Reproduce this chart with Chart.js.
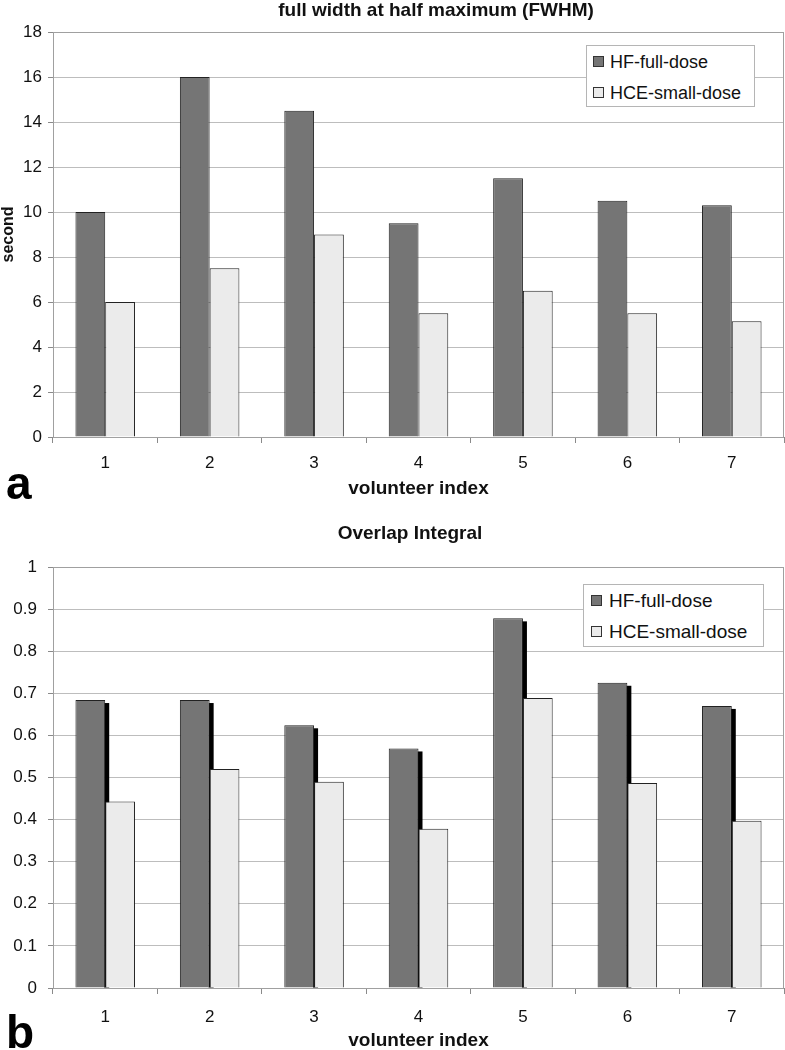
<!DOCTYPE html>
<html>
<head>
<meta charset="utf-8">
<script src="https://cdn.jsdelivr.net/npm/chart.js@4"></script>
<style>
  body { margin: 0; background: #fff; font-family: "Liberation Sans", Arial, sans-serif; }
  #page { position: relative; width: 785px; height: 1050px; overflow: hidden; }
  .panel { position: absolute; left: 0; width: 785px; }
  .title { position: absolute; font-weight: bold; white-space: nowrap; transform: translateX(-50%); line-height: 20px; color: #111; }
  .letter { position: absolute; left: 6px; font-weight: bold; font-size: 46px; line-height: 46px; color: #000; }
  .legend { position: absolute; box-sizing: border-box; border: 1px solid #b5b5b5; background: #fff; }
  .legend .row { position: absolute; white-space: nowrap; color: #111; }
  .legend .sw { position: absolute; width: 11px; height: 11px; box-sizing: border-box; border: 1px solid #333; }
</style>
</head>
<body>
<div id="page">
  <div class="panel" style="top:0;height:500px"><canvas id="fwhmChart"></canvas></div>
  <div class="panel" style="top:500px;height:550px"><canvas id="overlapChart"></canvas></div>

  <div class="title" style="left:436px;top:0;font-size:19px">full width at half maximum (FWHM)</div>
  <div class="title" style="left:410px;top:523px;font-size:19px">Overlap Integral</div>

  <div class="letter" style="top:460px">a</div>
  <div class="letter" style="top:1009px">b</div>

  <div class="legend" id="legendA" style="left:586px;top:45px;width:169px;height:62px;font-size:18px"></div>
  <div class="legend" id="legendB" style="left:583px;top:584px;width:181px;height:63px;font-size:19px"></div>
</div>

<script>
// valeurs
const volunteers = ["1", "2", "3", "4", "5", "6", "7"];
const seriesNames = ["HF-full-dose", "HCE-small-dose"];
const fwhmHF = [10, 16, 14.5, 9.5, 11.5, 10.5, 10.3];
const fwhmHCE = [6, 7.5, 9, 5.5, 6.5, 5.5, 5.15];
const overlapHF = [0.684, 0.684, 0.624, 0.569, 0.878, 0.725, 0.67];
const overlapHCE = [0.443, 0.52, 0.49, 0.378, 0.689, 0.487, 0.397];

const darkFill = "#757575";
const lightFill = "#ebebeb";
const barBorder = "#222";
const gridColor = "#bdbdbd";
const axisColor = "#8a8a8a";

Chart.defaults.font.family = '"Liberation Sans", Arial, sans-serif';
Chart.defaults.color = "#111";
Chart.defaults.animation = false;

// cadre gris autour de la zone de tracé
const framePlugin = {
  id: "frame",
  afterDraw(chart) {
    const a = chart.chartArea;
    const ctx = chart.ctx;
    ctx.save();
    ctx.strokeStyle = "#a0a0a0";
    ctx.lineWidth = 1;
    ctx.strokeRect(a.left + 0.5, a.top + 0.5, a.right - a.left - 1, a.bottom - a.top);
    ctx.restore();
  },
};

// ombre noire à droite des barres HF (graphique b), dessinée avant les barres
const shadowPlugin = {
  id: "barShadow",
  beforeDatasetsDraw(chart) {
    const meta = chart.getDatasetMeta(0);
    const ctx = chart.ctx;
    ctx.save();
    ctx.fillStyle = "#000";
    meta.data.forEach((bar) => {
      const p = bar.getProps(["x", "y", "base", "width"], true);
      ctx.fillRect(p.x + p.width / 2 - 1, p.y + 3, 5, p.base - p.y - 3);
    });
    ctx.restore();
  },
};

function datasets(hf, hce) {
  return [
    {
      label: seriesNames[0],
      data: hf,
      backgroundColor: darkFill,
      borderColor: barBorder,
      borderWidth: 1,
      categoryPercentage: 0.57,
      barPercentage: 1,
    },
    {
      label: seriesNames[1],
      data: hce,
      backgroundColor: lightFill,
      borderColor: barBorder,
      borderWidth: 1,
      categoryPercentage: 0.57,
      barPercentage: 1,
    },
  ];
}

function xScale(height, labelPad, titlePadBottom) {
  return {
    offset: true,
    grid: { drawOnChartArea: false, offset: true, tickLength: 6, tickColor: axisColor },
    border: { color: axisColor },
    ticks: { font: { size: 17 }, padding: labelPad, color: "#111" },
    title: {
      display: true,
      text: "volunteer index",
      font: { size: 19, weight: "bold", lineHeight: 1 },
      padding: { top: 0, bottom: titlePadBottom },
      color: "#111",
    },
    afterFit: (s) => { s.height = height; },
  };
}

// a) FWHM
new Chart(document.getElementById("fwhmChart"), {
  type: "bar",
  data: { labels: volunteers, datasets: datasets(fwhmHF, fwhmHCE) },
  options: {
    responsive: true,
    maintainAspectRatio: false,
    layout: { padding: { top: 32, right: 1, left: 0, bottom: 0 } },
    plugins: { legend: { display: false }, tooltip: { enabled: false } },
    scales: {
      x: xScale(63, 10, 2),
      y: {
        min: 0,
        max: 18,
        ticks: { stepSize: 2, font: { size: 17 }, padding: 6, color: "#111" },
        grid: { color: gridColor, tickLength: 5, tickColor: axisColor },
        border: { color: axisColor },
        title: {
          display: true,
          text: "second",
          font: { size: 16, weight: "bold", lineHeight: 1 },
          padding: { top: 1, bottom: 0 },
          color: "#111",
        },
        afterFit: (s) => { s.width = 53; },
      },
    },
  },
  plugins: [framePlugin],
});

// b) Overlap Integral
new Chart(document.getElementById("overlapChart"), {
  type: "bar",
  data: { labels: volunteers, datasets: datasets(overlapHF, overlapHCE) },
  options: {
    responsive: true,
    maintainAspectRatio: false,
    layout: { padding: { top: 67, right: 1, left: 0, bottom: 0 } },
    plugins: { legend: { display: false }, tooltip: { enabled: false } },
    scales: {
      x: xScale(62, 13, 0),
      y: {
        min: 0,
        max: 1,
        ticks: {
          stepSize: 0.1,
          font: { size: 17 },
          padding: 11,
          color: "#111",
          callback: (v) => String(Math.round(v * 10) / 10),
        },
        grid: { color: gridColor, tickLength: 5, tickColor: axisColor },
        border: { color: axisColor },
        afterFit: (s) => { s.width = 53; },
      },
    },
  },
  plugins: [framePlugin, shadowPlugin],
});

// légendes dans la zone de tracé
function fillLegend(id, swLeft, textLeft, rows) {
  const box = document.getElementById(id);
  const fills = [darkFill, lightFill];
  seriesNames.forEach((name, i) => {
    const sw = document.createElement("div");
    sw.className = "sw";
    sw.style.left = swLeft + "px";
    sw.style.top = rows[i] - 6 + "px";
    sw.style.background = fills[i];
    box.appendChild(sw);
    const t = document.createElement("div");
    t.className = "row";
    t.style.left = textLeft + "px";
    t.style.top = rows[i] - 11 + "px";
    t.style.lineHeight = "22px";
    t.textContent = name;
    box.appendChild(t);
  });
}
fillLegend("legendA", 6, 23, [16, 47]);
fillLegend("legendB", 7, 25, [16, 47]);
</script>
</body>
</html>
